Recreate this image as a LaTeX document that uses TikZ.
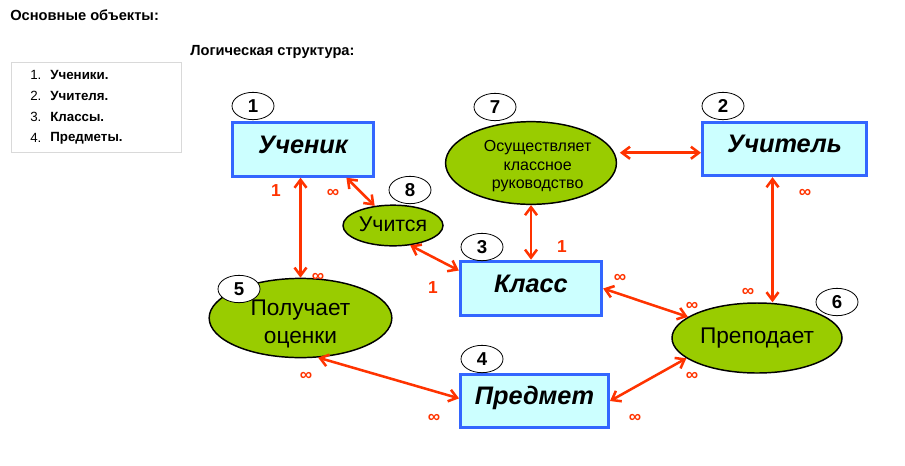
\documentclass[tikz,border=0pt]{standalone}
\usepackage{fontspec}
\setmainfont{Liberation Sans}
\usepackage{tikz}
\usetikzlibrary{arrows.meta,shapes.geometric,positioning}
\tikzset{>={Straight Barb[length=6pt,width=9pt]}}
\definecolor{boxfill}{RGB}{204,255,255}
\definecolor{boxline}{RGB}{51,102,255}
\definecolor{relfill}{RGB}{153,204,0}
\definecolor{linkred}{RGB}{255,51,0}
\tikzset{
  % entities of the model
  entity box/.style={draw=boxline, fill=boxfill, line width=2.25pt, inner sep=0pt,
    font=\fontsize{19}{22}\selectfont\bfseries\itshape,
    text height=0.72em, text depth=0.16em},
  % relations between them
  relation/.style={ellipse, draw=black, fill=relfill, line width=1.1pt, inner sep=0pt, align=center},
  % small numbered ovals
  num oval/.style={ellipse, draw=black, fill=white, line width=0.6pt, inner sep=0pt,
    minimum width=31.5pt, minimum height=20.5pt, font=\fontsize{14}{16}\selectfont\bfseries},
  link/.style={<->, draw=linkred, line width=1.9pt},
  card/.style={text=linkred, font=\fontsize{13}{15}\selectfont\bfseries, inner sep=0pt},
  heading/.style={anchor=west, inner sep=0pt, font=\fontsize{11}{13}\selectfont\bfseries},
}

\begin{document}
\begin{tikzpicture}[x=0.75pt,y=-0.75pt]
    \useasboundingbox (0,0) rectangle (905,465);

    % headers and the list of objects
    \node[heading] (head) at (10,15) {Основные объекты:};
    \node[heading] (logic) at (190,52) {Логическая структура:};
    \draw[draw=black!15, line width=0.75pt] (11,62) rectangle (181,152);
    \foreach \i/\t [count=\k] in {75/Ученики., 96/Учителя., 117/Классы., 138/Предметы.} {
        \node[anchor=west, inner sep=0pt, font=\fontsize{10}{12}\selectfont] (n\k) at (30,\i) {\k.};
        \node[anchor=west, inner sep=0pt, font=\fontsize{10}{12}\selectfont\bfseries] (item\k) at (50,\i) {\t};
    }

    % entities
    \node[entity box, minimum width=106pt, minimum height=40pt] (uchenik) at (303,149.5) {Ученик};
    \node[entity box, minimum width=123pt, minimum height=40pt] (uchitel) at (784.5,149) {Учитель};
    \node[entity box, minimum width=106pt, minimum height=41pt] (klass) at (531,288.5) {Класс};
    \node[entity box, minimum width=111pt, minimum height=40pt] (predmet) at (534.5,401) {Предмет};

    % relations
    \node[relation, minimum width=128pt, minimum height=62pt, font=\fontsize{12}{14}\selectfont] (rukovod) at (531,163)
        {\raisebox{-2.5pt}[\height][\depth]{\hspace{10pt}\begin{tabular}{@{}c@{}}Осуществляет\\классное\\руководство\end{tabular}}};
    \node[relation, minimum width=75pt, minimum height=30.5pt, font=\fontsize{16}{18}\selectfont] (uchitsya) at (393,225.5)
        {\raisebox{1pt}[\height][\depth]{Учится}};
    \node[relation, minimum width=127.5pt, minimum height=52.5pt, font=\fontsize{17}{20}\selectfont] (prepod) at (757,338) {Преподает};
    \node[relation, minimum width=137pt, minimum height=57pt, font=\fontsize{17}{21}\selectfont] (poluch) at (300.5,318)
        {\raisebox{-4.5pt}[\height][\depth]{\begin{tabular}{@{}c@{}}Получает\\оценки\end{tabular}}};

    % numbers
    \node[num oval] (o1) at (253,106) {1};
    \node[num oval] (o2) at (723,106) {2};
    \node[num oval] (o3) at (482,247) {3};
    \node[num oval] (o4) at (482,359) {4};
    \node[num oval] (o5) at (239,289) {5};
    \node[num oval] (o6) at (837,302) {6};
    \node[num oval] (o7) at (495,107) {7};
    \node[num oval] (o8) at (410,190) {8};

    % links
    \draw[link] (poluch.north |- uchenik.south) -- (poluch.north);
    \draw[link] (uchenik.-33) -- (uchitsya.133);
    \draw[link] (uchitsya.-49) -- (klass.166);
    \draw[link] (rukovod.south) -- (rukovod.south |- klass.north);
    \draw[link] ([xshift=4pt]rukovod.7) -- (rukovod.7 -| uchitel.west);
    \draw[link] ([xshift=-9pt]uchitel.south) -- ([xshift=-9pt]uchitel.south |- prepod.north);
    \draw[link] (klass.east) -- (prepod.163);
    \draw[link] (predmet.east) -- (prepod.196);
    \draw[link] (poluch.-66) -- (predmet.178);

    % cardinalities
    \node[card] (c1) at (276,191) {1};
    \node[card] (c2) at (333,193) {∞};
    \node[card] (c3) at (318,277) {∞};
    \node[card] (c4) at (433,288) {1};
    \node[card] (c5) at (562,247) {1};
    \node[card] (c6) at (620,278) {∞};
    \node[card] (c7) at (692,306) {∞};
    \node[card] (c8) at (748,292) {∞};
    \node[card] (c9) at (805,193) {∞};
    \node[card] (c10) at (692,376) {∞};
    \node[card] (c11) at (635,418) {∞};
    \node[card] (c12) at (306,376) {∞};
    \node[card] (c13) at (434,418) {∞};
\end{tikzpicture}
\end{document}
